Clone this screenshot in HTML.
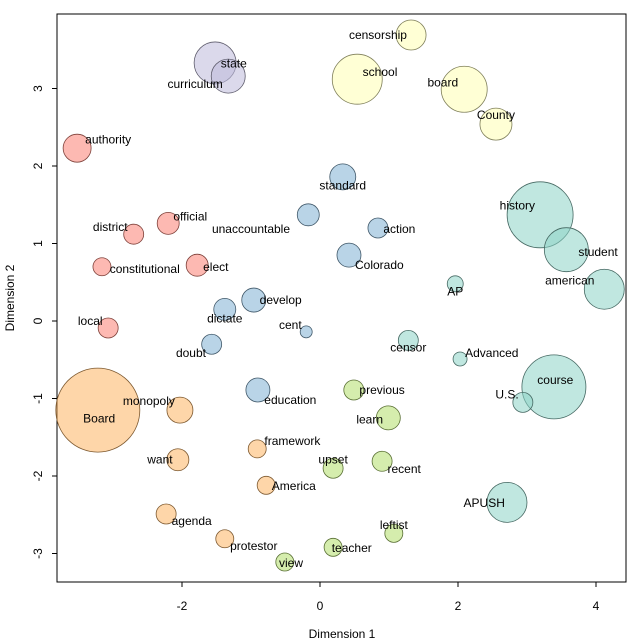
<!DOCTYPE html>
<html><head><meta charset="utf-8"><style>
html,body{margin:0;padding:0;background:#fff;}
svg{display:block;font-family:"Liberation Sans","DejaVu Sans",sans-serif;}
</style></head><body>
<svg id="chart" width="640" height="640"></svg>
<script>
const words=["censorship","school","board","County","state","curriculum","authority","official","district","constitutional","elect","local","standard","unaccountable","action","Colorado","develop","dictate","cent","doubt","education","history","student","american","AP","censor","Advanced","course","U.S.","APUSH","previous","learn","upset","recent","leftist","teacher","view","Board","monopoly","framework","want","America","agenda","protestor"];
const xs=[1.32,0.54,2.09,2.55,-1.52,-1.33,-3.52,-2.20,-2.70,-3.16,-1.78,-3.07,0.33,-0.17,0.84,0.42,-0.96,-1.38,-0.20,-1.57,-0.90,3.19,3.57,4.12,1.96,1.28,2.03,3.39,2.94,2.71,0.49,0.99,0.19,0.90,1.07,0.19,-0.51,-3.22,-2.03,-0.91,-2.06,-0.78,-2.23,-1.38];
const ys=[3.69,3.12,2.99,2.54,3.33,3.16,2.23,1.26,1.12,0.70,0.72,-0.09,1.86,1.37,1.20,0.85,0.27,0.15,-0.14,-0.30,-0.89,1.37,0.92,0.41,0.48,-0.25,-0.49,-0.85,-1.05,-2.34,-0.89,-1.25,-1.90,-1.81,-2.74,-2.92,-3.11,-1.15,-1.15,-1.65,-1.79,-2.12,-2.49,-2.81];
const sizes=[15,25,23,16,21,17,14,11,10,9,11,10,13,11,10,12,12,11,6,10,12,33,22,20,8,10,7,32,10,20,10,12,10,10,9,9,9,42,13,9,11,9,10,9];
const groups=[0,0,0,0,1,1,2,2,2,2,2,2,3,3,3,3,3,3,3,3,3,4,4,4,4,4,4,4,4,4,5,5,5,5,5,5,5,6,6,6,6,6,6,6];
const labelXs=[0.84,0.87,1.78,2.55,-1.25,-1.81,-3.07,-1.88,-3.04,-2.54,-1.51,-3.33,0.33,-1.00,1.15,0.86,-0.57,-1.38,-0.43,-1.87,-0.43,2.86,4.03,3.62,1.96,1.28,2.49,3.41,2.71,2.38,0.90,0.72,0.19,1.22,1.07,0.46,-0.42,-3.20,-2.48,-0.40,-2.32,-0.38,-1.86,-0.96];
const labelYs=[3.69,3.21,3.08,2.66,3.32,3.06,2.34,1.35,1.21,0.67,0.70,0.00,1.75,1.19,1.19,0.72,0.27,0.03,-0.05,-0.41,-1.02,1.49,0.89,0.52,0.38,-0.34,-0.41,-0.76,-0.95,-2.35,-0.89,-1.27,-1.79,-1.91,-2.63,-2.93,-3.12,-1.26,-1.03,-1.55,-1.79,-2.13,-2.58,-2.90];
const xTicks=[-2,0,2,4];
const yTicks=[-3,-2,-1,0,1,2,3];
const fills=["#ffffb3","#bebada","#fb8072","#80b1d3","#8dd3c7","#b3de69","#fdb462"];
const strokes=["#7f7f5a","#5f5d6d","#7d4039","#405869","#466963","#596f34","#7e5a31"];

const L=57,R=626,T=14,B=582;
function sx(v){return 320+v*69;}
function sy(v){return 321-v*77.5;}
const NS="http://www.w3.org/2000/svg";
const svg=document.getElementById('chart');
function mk(tag,attrs,parent){const e=document.createElementNS(NS,tag);for(const k in attrs)e.setAttribute(k,attrs[k]);(parent||svg).appendChild(e);return e;}

const frame=mk('rect',{x:L,y:T,width:R-L,height:B-T,fill:'none',stroke:'#000','stroke-width':1});



xTicks.forEach(t=>{
  const ln=mk('line',{x1:sx(t),x2:sx(t),y1:B,y2:B+5,stroke:'#000'});
  
  
  const tx=mk('text',{x:sx(t),y:B+28,'text-anchor':'middle','font-size':12,fill:'#000'});
  tx.textContent=t;
  
  
});
yTicks.forEach(t=>{
  const ln=mk('line',{x1:L-5,x2:L,y1:sy(t),y2:sy(t),stroke:'#000'});
  
  
  const tx=mk('text',{x:42,y:sy(t),'text-anchor':'middle','font-size':12,fill:'#000',transform:'rotate(-90 42 '+sy(t)+')'});
  tx.textContent=t;
  
  
});
const xt=mk('text',{x:342,y:638,'text-anchor':'middle','font-size':12});
xt.textContent='Dimension 1';


const yt=mk('text',{x:14,y:298,'text-anchor':'middle','font-size':12,transform:'rotate(-90 14 298)'});
yt.textContent='Dimension 2';



const order=words.map((w,i)=>i).sort((a,b)=>sizes[b]-sizes[a]);
order.forEach(i=>{
  const c=mk('circle',{cx:sx(xs[i]),cy:sy(ys[i]),r:sizes[i],fill:fills[groups[i]],'fill-opacity':0.55,stroke:strokes[groups[i]],'stroke-width':0.8});
  
  
});
words.forEach((w,i)=>{
  const t=mk('text',{x:sx(labelXs[i]),y:sy(labelYs[i])+4,'text-anchor':'middle','font-size':12,fill:'#000'});
  t.textContent=w;
  
  
});
</script>
</body></html>
